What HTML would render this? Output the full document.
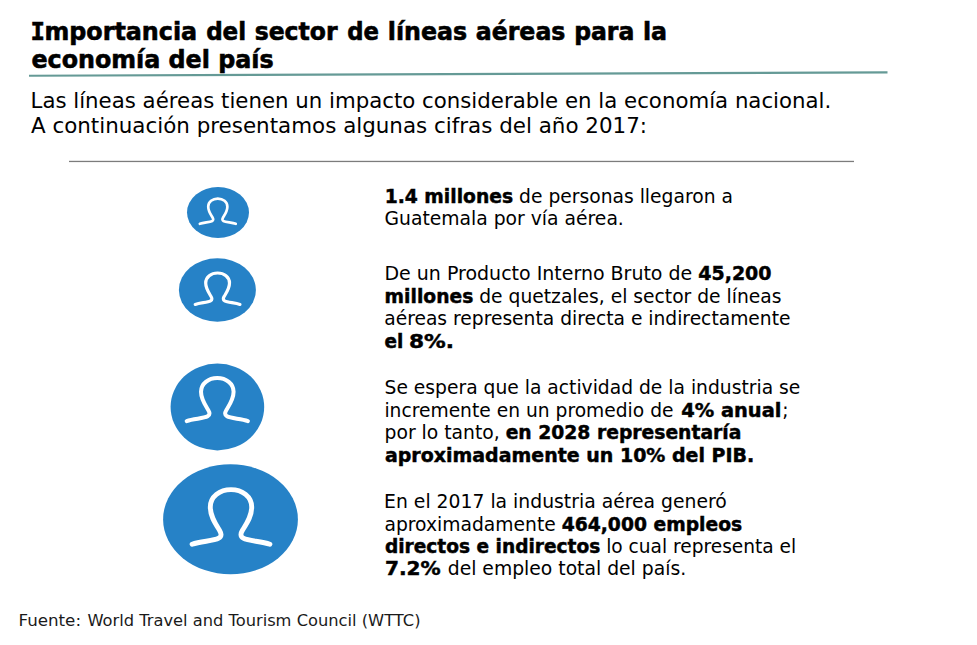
<!DOCTYPE html>
<html lang="es">
<head>
<meta charset="utf-8">
<title>Importancia del sector de líneas aéreas para la economía del país</title>
<style>
html,body{margin:0;padding:0;background:#fff;}
body{width:977px;height:645px;overflow:hidden;}
svg{display:block;}
text{font-family:"DejaVu Sans","Liberation Sans",sans-serif;fill:#000;}
.t{font-weight:bold;font-size:24px;stroke:#000;stroke-width:0.6px;}
.s{font-size:21.33px;}
.b{font-size:18.67px;}
.f{font-size:16px;fill:#1a1a1a;}
.k{font-weight:bold;stroke:#000;stroke-width:0.45px;}
.m{font-family:"DejaVu Sans Mono","Liberation Mono",monospace;}
</style>
</head>
<body>
<svg width="977" height="645" viewBox="0 0 977 645">
  <line x1="29" y1="75.7" x2="887.5" y2="72.4" stroke="#659a96" stroke-width="2.1"/>
  <rect x="69" y="160.8" width="785" height="1.3" fill="#7c7c7c"/>
  <g fill="#2682c7">
    <ellipse cx="218" cy="212.5" rx="31" ry="25.5"/>
    <ellipse cx="217.4" cy="290" rx="38.5" ry="31.7"/>
    <ellipse cx="217.4" cy="407" rx="46.8" ry="43.4"/>
    <ellipse cx="230.5" cy="519.3" rx="67.4" ry="55"/>
  </g>
  <g fill="none" stroke="#fff" stroke-linecap="round" stroke-linejoin="round">
    <path d="M -38.9 54.6 C -30 51.4, -17.5 51.6, -12.3 48.6 C -9.1 46.8, -9.6 43.8, -11.4 40.8 C -15.6 34, -20.7 27, -20.7 17.5 C -20.7 7, -11.2 0, 0 0 C 11.2 0, 20.7 7, 20.7 17.5 C 20.7 27, 15.6 34, 11.4 40.8 C 9.6 43.8, 9.1 46.8, 12.3 48.6 C 17.5 51.6, 30 51.4, 38.9 54.6" transform="translate(217.8 198.6) scale(0.462)" stroke-width="5.8"/>
    <path d="M -38.9 54.6 C -30 51.4, -17.5 51.6, -12.3 48.6 C -9.1 46.8, -9.6 43.8, -11.4 40.8 C -15.6 34, -20.7 27, -20.7 17.5 C -20.7 7, -11.2 0, 0 0 C 11.2 0, 20.7 7, 20.7 17.5 C 20.7 27, 15.6 34, 11.4 40.8 C 9.6 43.8, 9.1 46.8, 12.3 48.6 C 17.5 51.6, 30 51.4, 38.9 54.6" transform="translate(217.6 273) scale(0.575)" stroke-width="5.6"/>
    <path d="M -38.9 54.6 C -30 51.4, -17.5 51.6, -12.3 48.6 C -9.1 46.8, -9.6 43.8, -11.4 40.8 C -15.6 34, -20.7 27, -20.7 17.5 C -20.7 7, -11.2 0, 0 0 C 11.2 0, 20.7 7, 20.7 17.5 C 20.7 27, 15.6 34, 11.4 40.8 C 9.6 43.8, 9.1 46.8, 12.3 48.6 C 17.5 51.6, 30 51.4, 38.9 54.6" transform="translate(217.3 378.1) scale(0.787)" stroke-width="5.1"/>
    <path d="M -38.9 54.6 C -30 51.4, -17.5 51.6, -12.3 48.6 C -9.1 46.8, -9.6 43.8, -11.4 40.8 C -15.6 34, -20.7 27, -20.7 17.5 C -20.7 7, -11.2 0, 0 0 C 11.2 0, 20.7 7, 20.7 17.5 C 20.7 27, 15.6 34, 11.4 40.8 C 9.6 43.8, 9.1 46.8, 12.3 48.6 C 17.5 51.6, 30 51.4, 38.9 54.6" transform="translate(231 489.6)" stroke-width="4.9"/>
  </g>
  <text class="t" y="39.90"><tspan x="30.58" class="m">I</tspan><tspan x="44.44" textLength="152.68" lengthAdjust="spacingAndGlyphs">mportancia</tspan> <tspan x="206.13" textLength="40.03" lengthAdjust="spacingAndGlyphs">del</tspan> <tspan x="254.65" textLength="82.86" lengthAdjust="spacingAndGlyphs">sector</tspan> <tspan x="347.17" textLength="31.69" lengthAdjust="spacingAndGlyphs">de</tspan> <tspan x="387.84" textLength="79.28" lengthAdjust="spacingAndGlyphs">líneas</tspan> <tspan x="475.80" textLength="89.57" lengthAdjust="spacingAndGlyphs">aéreas</tspan> <tspan x="574.17" textLength="60.19" lengthAdjust="spacingAndGlyphs">para</tspan> <tspan x="642.93" textLength="24.14" lengthAdjust="spacingAndGlyphs">la</tspan></text>
  <text class="t" y="67.60" x="31.45" textLength="242.15" lengthAdjust="spacingAndGlyphs">economía del país</text>
  <text class="s" y="107.70" x="30.52" textLength="800.77" lengthAdjust="spacingAndGlyphs">Las líneas aéreas tienen un impacto considerable en la economía nacional.</text>
  <text class="s" y="133.00" x="30.94" textLength="616.11" lengthAdjust="spacingAndGlyphs">A continuación presentamos algunas cifras del año 2017:</text>
  <text class="b" y="203.00" x="384.73" textLength="348.20" lengthAdjust="spacingAndGlyphs"><tspan class="k">1.4 millones</tspan> de personas llegaron a</text>
  <text class="b" y="224.90" x="384.50" textLength="239.34" lengthAdjust="spacingAndGlyphs">Guatemala por vía aérea.</text>
  <text class="b" y="279.80" x="384.50" textLength="387.05" lengthAdjust="spacingAndGlyphs">De un Producto Interno Bruto de <tspan class="k">45,200</tspan></text>
  <text class="b" y="303.00" x="384.59" textLength="396.94" lengthAdjust="spacingAndGlyphs"><tspan class="k">millones</tspan> de quetzales, el sector de líneas</text>
  <text class="b" y="324.60" x="384.24" textLength="406.24" lengthAdjust="spacingAndGlyphs">aéreas representa directa e indirectamente</text>
  <text class="b" y="347.80"><tspan x="384.42" textLength="18.86" lengthAdjust="spacingAndGlyphs"><tspan class="k">el</tspan></tspan> <tspan x="409.04" textLength="44.98" lengthAdjust="spacingAndGlyphs"><tspan class="k">8%.</tspan></tspan></text>
  <text class="b" y="393.90" x="384.52" textLength="415.79" lengthAdjust="spacingAndGlyphs">Se espera que la actividad de la industria se</text>
  <text class="b" y="417.20"><tspan x="384.41" textLength="289.07" lengthAdjust="spacingAndGlyphs">incremente en un promedio de</tspan> <tspan x="681.17" textLength="100.27" lengthAdjust="spacingAndGlyphs"><tspan class="k">4% anual</tspan></tspan><tspan x="782.20">;</tspan></text>
  <text class="b" y="438.70" x="384.53" textLength="356.89" lengthAdjust="spacingAndGlyphs">por lo tanto, <tspan class="k">en 2028 representaría</tspan></text>
  <text class="b" y="461.80" x="384.91" textLength="369.36" lengthAdjust="spacingAndGlyphs"><tspan class="k">aproximadamente un 10% del PIB.</tspan></text>
  <text class="b" y="507.70" x="384.11" textLength="342.75" lengthAdjust="spacingAndGlyphs">En el 2017 la industria aérea generó</text>
  <text class="b" y="531.10" x="384.47" textLength="357.67" lengthAdjust="spacingAndGlyphs">aproximadamente <tspan class="k">464,000 empleos</tspan></text>
  <text class="b" y="552.50" x="384.90" textLength="411.31" lengthAdjust="spacingAndGlyphs"><tspan class="k">directos e indirectos</tspan> lo cual representa el</text>
  <text class="b" y="575.00"><tspan x="384.96" textLength="55.72" lengthAdjust="spacingAndGlyphs"><tspan class="k">7.2%</tspan></tspan> <tspan x="447.72" textLength="238.42" lengthAdjust="spacingAndGlyphs">del empleo total del país.</tspan></text>
  <text class="f" y="626.00"><tspan x="18.47" textLength="62.55" lengthAdjust="spacingAndGlyphs">Fuente:</tspan> <tspan x="87.41" textLength="333.09" lengthAdjust="spacingAndGlyphs">World Travel and Tourism Council (WTTC)</tspan></text>
</svg>
</body>
</html>
